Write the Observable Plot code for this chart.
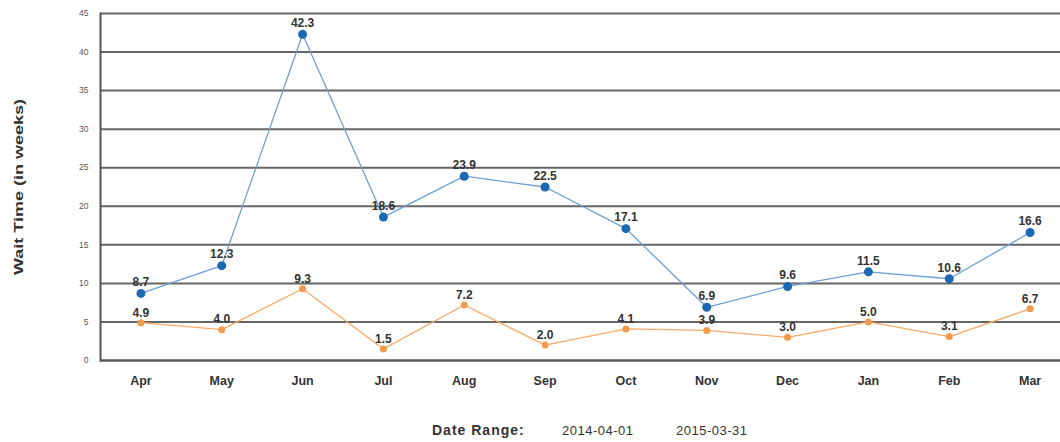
<!DOCTYPE html>
<html>
<head>
<meta charset="utf-8">
<script src="https://cdn.jsdelivr.net/npm/d3@7"></script>
<script src="https://cdn.jsdelivr.net/npm/@observablehq/plot@0.6"></script>
<style>
  html, body { margin: 0; padding: 0; background: #fff; overflow: hidden; }
  body { width: 1060px; height: 442px; font-family: "Liberation Sans", Arial, sans-serif; }
  #chart svg { display: block; }
  #legend { position: relative; height: 42px; font-size: 13px; color: #333; }
  #legend span { position: absolute; top: 23px; letter-spacing: 0.5px; }
  #legend .lab { font-weight: bold; left: 432px; font-size: 14px; top: 22px; letter-spacing: 1px; }
</style>
</head>
<body>
<div id="chart"></div>
<div id="legend">
  <span class="lab">Date Range:</span>
  <span id="d1" style="left:562px"></span>
  <span id="d2" style="left:676px"></span>
</div>
<script>
const months = ["Apr","May","Jun","Jul","Aug","Sep","Oct","Nov","Dec","Jan","Feb","Mar"];
const seriesA = [8.7, 12.3, 42.3, 18.6, 23.9, 22.5, 17.1, 6.9, 9.6, 11.5, 10.6, 16.6];
const seriesB = [4.9, 4.0, 9.3, 1.5, 7.2, 2.0, 4.1, 3.9, 3.0, 5.0, 3.1, 6.7];
const yTicks = [0, 5, 10, 15, 20, 25, 30, 35, 40, 45];
const dateRange = ["2014-04-01", "2015-03-31"];
const yLabel = "Wait Time (in weeks)";

document.getElementById("d1").textContent = dateRange[0];
document.getElementById("d2").textContent = dateRange[1];

const dataA = months.map((m, i) => ({month: m, value: seriesA[i]}));
const dataB = months.map((m, i) => ({month: m, value: seriesB[i]}));

const chart = Plot.plot({
  width: 1060,
  height: 400,
  marginLeft: 100,
  marginRight: -10,
  marginTop: 13,
  marginBottom: 40,
  style: {fontFamily: "Liberation Sans, Arial, sans-serif", background: "#fff"},
  x: {type: "point", domain: months, padding: 0.5, round: false, label: null},
  y: {domain: [0, 45], label: null},
  marks: [
    Plot.gridY(yTicks, {stroke: "#555", strokeWidth: 2, strokeOpacity: 0.9}),
    Plot.frame({anchor: "left", stroke: "#555", strokeWidth: 2}),
    Plot.ruleY([0], {stroke: "#555", strokeWidth: 2}),
    Plot.axisY(yTicks, {tickSize: 0, tickPadding: 12, fontSize: 8.5, fill: "#555", label: null}),
    Plot.axisX({tickSize: 0, tickPadding: 16, fontSize: 12.5, fontWeight: "bold", fill: "#333", label: null}),
    Plot.text([yLabel], {frameAnchor: "left", textAnchor: "middle", dx: -81, rotate: -90, fontWeight: "bold", fontSize: 12, fill: "#333"}),
    Plot.line(dataB, {x: "month", y: "value", stroke: "#f6aa66", strokeWidth: 1.3}),
    Plot.dot(dataB, {x: "month", y: "value", r: 3.5, fill: "#f39a4c", stroke: "none"}),
    Plot.line(dataA, {x: "month", y: "value", stroke: "#6f9fd6", strokeWidth: 1.3}),
    Plot.dot(dataA, {x: "month", y: "value", r: 4.5, fill: "#1d68b3", stroke: "none"}),
    Plot.text(dataA, {x: "month", y: "value", text: d => d.value.toFixed(1), dy: -11, fontSize: 12, fontWeight: "bold", fill: "#333"}),
    Plot.text(dataB, {x: "month", y: "value", text: d => d.value.toFixed(1), dy: -10, fontSize: 12, fontWeight: "bold", fill: "#333"})
  ]
});
d3.select(chart).selectAll("text").filter(function() { return this.textContent === yLabel; })
  .attr("textLength", 176).attr("lengthAdjust", "spacingAndGlyphs");
document.getElementById("chart").appendChild(chart);
</script>
</body>
</html>
